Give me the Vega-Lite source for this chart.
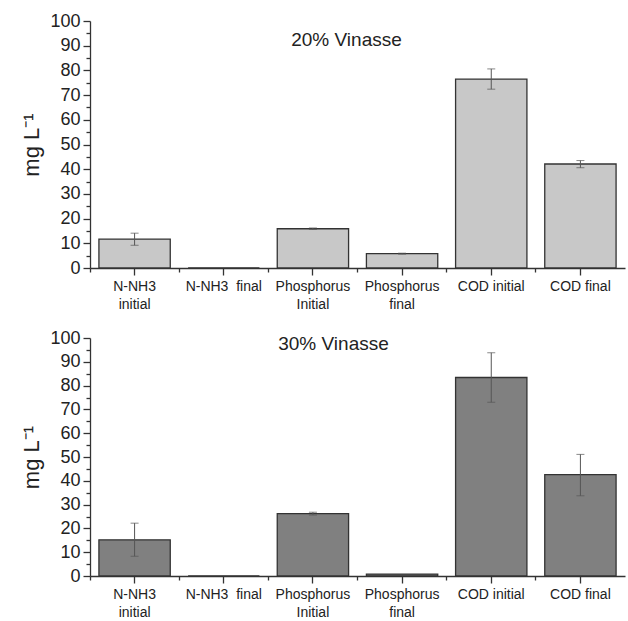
{
  "$schema": "https://vega.github.io/schema/vega-lite/v6.json",
  "background": "white",
  "padding": {"left": 20, "top": 12, "right": 2, "bottom": 4},
  "datasets": {
    "v20": [
      {"cat": "N-NH3|initial", "value": 11.7, "lo": 9.2, "hi": 14.1},
      {"cat": "N-NH3\u00a0\u00a0final", "value": 0, "lo": null, "hi": null},
      {"cat": "Phosphorus|Initial", "value": 15.9, "lo": 15.6, "hi": 16.2},
      {"cat": "Phosphorus|final", "value": 5.8, "lo": 5.6, "hi": 6.0},
      {"cat": "COD initial", "value": 76.5, "lo": 72.4, "hi": 80.6},
      {"cat": "COD final", "value": 42.1, "lo": 40.6, "hi": 43.5}
    ],
    "v30": [
      {"cat": "N-NH3|initial", "value": 15.2, "lo": 8.3, "hi": 22.2},
      {"cat": "N-NH3\u00a0\u00a0final", "value": 0, "lo": null, "hi": null},
      {"cat": "Phosphorus|Initial", "value": 26.2, "lo": 25.6, "hi": 26.8},
      {"cat": "Phosphorus|final", "value": 0.8, "lo": null, "hi": null},
      {"cat": "COD initial", "value": 83.4, "lo": 73.0, "hi": 93.8},
      {"cat": "COD final", "value": 42.6, "lo": 33.7, "hi": 51.1}
    ]
  },
  "config": {
    "view": {"stroke": null},
    "font": "Liberation Sans",
    "axis": {
      "domainColor": "#333333",
      "domainWidth": 1.3,
      "tickColor": "#333333",
      "tickWidth": 1.3,
      "labelColor": "#222222",
      "titleColor": "#222222",
      "labelFont": "Liberation Sans",
      "titleFont": "Liberation Sans",
      "grid": false
    },
    "title": {"font": "Liberation Sans", "fontSize": 19, "fontWeight": "normal", "color": "#222222"}
  },
  "spacing": 18,
  "vconcat": [
    {
      "data": {"name": "v20"},
      "width": 535,
      "height": 247,
      "title": {"text": "20% Vinasse", "offset": -38, "dx": -11},
      "layer": [
        {
          "mark": {"type": "bar", "color": "#c8c8c8", "stroke": "#333333", "strokeWidth": 1.3},
          "encoding": {
            "x": {"field": "cat", "type": "nominal", "sort": null,
              "scale": {"paddingInner": 0.2, "paddingOuter": 0.1},
              "axis": {"title": null, "labelAngle": 0, "labelFontSize": 14, "labelLineHeight": 18, "labelPadding": 4, "tickSize": 7, "labelExpr": "split(datum.label, '|')", "orient": "bottom"}},
            "y": {"field": "value", "type": "quantitative",
              "scale": {"domain": [0, 100], "nice": false},
              "axis": {"title": "mg L\u207b\u00b9", "titleFontSize": 22, "titleFontWeight": "normal", "titlePadding": 6,
                "values": [0,5,10,15,20,25,30,35,40,45,50,55,60,65,70,75,80,85,90,95,100],
                "labelExpr": "datum.value % 10 === 0 ? datum.label : ''",
                "labelFontSize": 18, "labelPadding": 3,
                "tickSize": {"condition": {"test": "datum.value % 10 === 0", "value": 7}, "value": 4}}}
          }
        },
        {
          "mark": {"type": "errorbar", "color": "#555555", "thickness": 1, "ticks": {"size": 8, "color": "#555555"}},
          "encoding": {
            "x": {"field": "cat", "type": "nominal", "sort": null,
              "axis": {"title": null, "labels": false, "domain": false, "tickSize": 4, "bandPosition": -0.125, "orient": "bottom"}},
            "y": {"field": "lo", "type": "quantitative",
              "axis": {"title": "mg L\u207b\u00b9", "titleFontSize": 22, "titleFontWeight": "normal", "titlePadding": 6,
                "values": [0,5,10,15,20,25,30,35,40,45,50,55,60,65,70,75,80,85,90,95,100],
                "labelExpr": "datum.value % 10 === 0 ? datum.label : ''",
                "labelFontSize": 18, "labelPadding": 3,
                "tickSize": {"condition": {"test": "datum.value % 10 === 0", "value": 7}, "value": 4}}},
            "y2": {"field": "hi"}
          }
        }
      ],
      "resolve": {"axis": {"x": "independent"}}
    },
    {
      "data": {"name": "v30"},
      "width": 535,
      "height": 238,
      "title": {"text": "30% Vinasse", "offset": -25, "dx": -24},
      "layer": [
        {
          "mark": {"type": "bar", "color": "#808080", "stroke": "#333333", "strokeWidth": 1.3},
          "encoding": {
            "x": {"field": "cat", "type": "nominal", "sort": null,
              "scale": {"paddingInner": 0.2, "paddingOuter": 0.1},
              "axis": {"title": null, "labelAngle": 0, "labelFontSize": 14, "labelLineHeight": 18, "labelPadding": 4, "tickSize": 7, "labelExpr": "split(datum.label, '|')", "orient": "bottom"}},
            "y": {"field": "value", "type": "quantitative",
              "scale": {"domain": [0, 100], "nice": false},
              "axis": {"title": "mg L\u207b\u00b9", "titleFontSize": 22, "titleFontWeight": "normal", "titlePadding": 6,
                "values": [0,5,10,15,20,25,30,35,40,45,50,55,60,65,70,75,80,85,90,95,100],
                "labelExpr": "datum.value % 10 === 0 ? datum.label : ''",
                "labelFontSize": 18, "labelPadding": 3,
                "tickSize": {"condition": {"test": "datum.value % 10 === 0", "value": 7}, "value": 4}}}
          }
        },
        {
          "mark": {"type": "errorbar", "color": "#555555", "thickness": 1, "ticks": {"size": 8, "color": "#555555"}},
          "encoding": {
            "x": {"field": "cat", "type": "nominal", "sort": null,
              "axis": {"title": null, "labels": false, "domain": false, "tickSize": 4, "bandPosition": -0.125, "orient": "bottom"}},
            "y": {"field": "lo", "type": "quantitative",
              "axis": {"title": "mg L\u207b\u00b9", "titleFontSize": 22, "titleFontWeight": "normal", "titlePadding": 6,
                "values": [0,5,10,15,20,25,30,35,40,45,50,55,60,65,70,75,80,85,90,95,100],
                "labelExpr": "datum.value % 10 === 0 ? datum.label : ''",
                "labelFontSize": 18, "labelPadding": 3,
                "tickSize": {"condition": {"test": "datum.value % 10 === 0", "value": 7}, "value": 4}}},
            "y2": {"field": "hi"}
          }
        }
      ],
      "resolve": {"axis": {"x": "independent"}}
    }
  ]
}
